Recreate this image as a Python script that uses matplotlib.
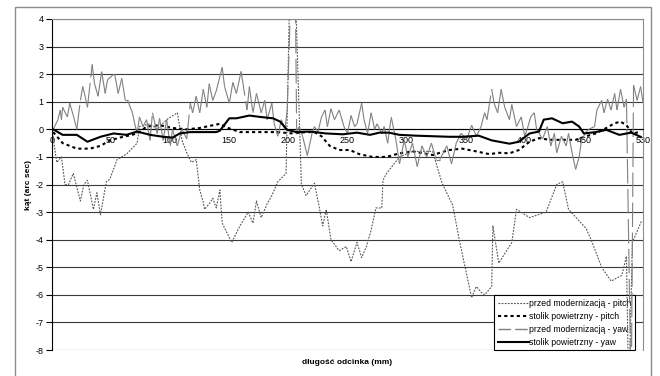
import matplotlib
matplotlib.use("Agg")
import matplotlib.pyplot as plt
from matplotlib.patches import Rectangle
from matplotlib.collections import LineCollection
from matplotlib.lines import Line2D

plt.rcParams['font.family'] = ['Liberation Sans', 'DejaVu Sans']

# ---- data ----
x_ticks = [0, 50, 100, 150, 200, 250, 300, 350, 400, 450, 500]
x_tick_labels = ["0", "50", "100", "150", "200", "250", "300", "350", "400", "450", "530"]
y_ticks = [4, 3, 2, 1, 0, -1, -2, -3, -4, -5, -6, -7, -8]

series_names = ["przed modernizacją - pitch", "stolik powietrzny - pitch",
                "przed modernizacją - yaw", "stolik powietrzny - yaw"]

pitch_old_x = [0, 4, 8, 11, 14, 18, 24, 27, 30, 35, 38, 41, 46, 49, 55, 63, 72, 74, 83, 89, 97,
               106, 110, 114, 118, 122, 125, 128, 129, 133, 136, 139, 142, 144, 152, 159, 166,
               170, 173, 177, 182, 186, 191, 198, 203, 211, 215, 222, 226, 229, 232, 236, 243,
               249, 253, 258, 262, 266, 270, 274, 279, 280, 283, 294, 305, 322, 330, 339, 345,
               355, 359, 363, 366, 372, 373, 378, 389, 393, 404, 418, 427, 432, 437, 452, 457,
               465, 473, 482, 486, 488, 491, 499]
pitch_old_y = [0, -1.2, -1.0, -2.0, -2.0, -1.6, -2.6, -2.0, -1.85, -2.9, -2.3, -3.1, -1.9, -1.8,
               -1.1, -0.9, -0.5, 0.1, 0.2, 0.0, 0.35, 0.6, -0.4, -0.85, -1.2, -1.1, -2.2, -2.65,
               -2.9, -2.7, -2.5, -2.85, -2.2, -3.4, -4.1, -3.5, -3.0, -3.4, -2.6, -3.2, -2.7,
               -2.4, -1.9, -1.6, 9.0, -2.0, -2.4, -1.95, -2.8, -3.5, -2.9, -4.0, -4.4, -4.25,
               -4.8, -4.1, -4.65, -4.25, -3.65, -2.85, -2.85, -1.85, -1.6, -1.0, -0.8, -0.8,
               -1.95, -2.75, -4.1, -6.1, -5.7, -5.9, -6.0, -5.7, -3.5, -4.85, -4.1, -2.9, -3.2,
               -3.0, -2.0, -1.9, -2.9, -3.6, -4.1, -5.0, -5.5, -5.3, -4.6, -10.0, -4.1, -3.3]

pitch_new_x = [1, 9, 21, 32, 41, 49, 60, 68, 74, 80, 91, 102, 114, 125, 133, 142, 149, 159, 173,
               190, 204, 215, 222, 228, 235, 243, 252, 260, 271, 283, 294, 305, 322, 336, 347,
               359, 370, 378, 387, 395, 404, 412, 421, 432, 443, 452, 460, 469, 476, 481, 486,
               491, 497]
pitch_new_y = [-0.1, -0.5, -0.7, -0.7, -0.6, -0.4, -0.27, -0.2, -0.1, 0.1, 0.15, 0.05, 0.0, 0.05,
               0.12, 0.2, 0.05, -0.1, -0.1, -0.1, -0.15, -0.1, -0.1, -0.25, -0.6, -0.75, -0.75,
               -0.9, -1.0, -1.0, -0.87, -0.8, -0.93, -0.75, -0.7, -0.8, -0.9, -0.85, -0.87, -0.75,
               -0.45, -0.32, -0.38, -0.38, -0.38, -0.25, -0.15, 0.05, 0.22, 0.28, 0.15, -0.15, -0.1]

yaw_old_x = [1, 5, 7, 8, 9, 13, 15, 18, 21, 24, 26, 28, 30, 34, 36, 39, 42, 45, 47, 51, 53, 56,
             59, 62, 64, 68, 70, 72, 74, 77, 80, 83, 85, 89, 91, 94, 97, 100, 102, 106, 110, 114,
             117, 119, 122, 125, 128, 131, 133, 136, 139, 144, 146, 150, 153, 156, 160, 165, 167,
             170, 173, 177, 180, 182, 186, 188, 191, 194, 197, 199, 205, 207, 209, 212, 216, 220,
             222, 225, 228, 231, 233, 236, 239, 243, 247, 250, 253, 256, 258, 262, 264, 267, 270,
             273, 275, 279, 281, 284, 287, 291, 294, 298, 301, 305, 309, 313, 317, 321, 325, 328,
             334, 338, 342, 346, 351, 355, 359, 363, 366, 368, 372, 374, 377, 380, 383, 387, 389,
             393, 397, 400, 402, 405, 408, 410, 415, 419, 422, 425, 427, 431, 435, 437, 440, 443,
             446, 448, 452, 454, 459, 461, 465, 467, 470, 473, 476, 478, 481, 484, 486, 490, 492,
             495, 498, 500]
yaw_old_y = [0, 0.35, 0.7, 0.35, 0.8, 0.45, 0.95, 0.5, 0.0, 1.05, 1.55, 1.2, 0.8, 2.35, 1.65, 1.2,
             2.1, 1.3, 1.8, 1.95, 2.0, 1.3, 1.85, 1.05, 1.05, 0.6, 0.2, -0.15, 0.45, 0.1, 0.35,
             -0.4, 0.6, -0.15, 0.4, -0.4, 0.35, -0.6, 0.0, -0.6, 0.0, -0.35, 0.95, 0.6, 1.2, 0.6,
             1.45, 0.8, 1.65, 1.05, 1.4, 2.25, 1.55, 0.95, 1.7, 1.3, 2.1, 0.7, 1.55, 0.6, 1.3,
             0.6, 1.05, 0.35, 0.95, 0.2, -0.25, 0.35, 0.0, 0.7, 9.0, -0.15, 0.1, -0.25, -0.95,
             -0.15, 0.1, -0.1, 0.45, 0.7, 0.1, 0.75, 0.35, 0.7, 0.1, -0.15, 0.5, 0.1, 0.2, 0.95,
             0.35, -0.15, 0.6, 0.0, 0.2, -0.15, 0.1, -0.5, 0.45, -0.4, -1.25, -0.4, -1.0, -0.5,
             -1.35, -0.6, -1.0, -0.5, -1.1, -1.1, -0.6, -1.25, -0.5, -0.15, -0.35, 0.15, -0.25,
             0.1, 0.6, 0.35, 1.45, 0.95, 0.6, 1.45, 0.8, 0.35, 0.9, 0.1, 0.45, -0.25, 0.0, 0.45,
             0.6, 0.0, -0.35, 0.1, -0.6, -0.15, -0.85, -0.25, -0.6, -0.15, -0.85, -1.45, -1.0,
             -0.4, -0.08, 0.0, 0.1, 0.7, 1.05, 0.6, 1.1, 0.7, 1.3, 0.7, 1.45, 0.8, 1.1, -10.0,
             1.6, 1.05, 1.55, 0.95]

yaw_new_x = [1, 9, 21, 30, 41, 52, 63, 72, 83, 94, 102, 108, 117, 128, 139, 142, 150, 156, 167,
             176, 187, 193, 199, 207, 218, 232, 246, 258, 269, 277, 285, 294, 308, 322, 336, 347,
             361, 372, 387, 395, 404, 412, 416, 423, 432, 440, 446, 450, 460, 469, 480, 490, 498]
yaw_new_y = [0, -0.2, -0.2, -0.45, -0.27, -0.15, -0.2, -0.08, -0.2, -0.27, -0.3, -0.15, -0.1,
             -0.1, -0.1, -0.05, 0.4, 0.4, 0.5, 0.45, 0.4, 0.28, -0.02, -0.1, -0.08, -0.15, -0.18,
             -0.12, -0.2, -0.12, -0.12, -0.2, -0.23, -0.25, -0.27, -0.27, -0.23, -0.4, -0.52,
             -0.45, -0.15, -0.08, 0.35, 0.4, 0.22, 0.28, 0.1, -0.15, -0.1, -0.02, -0.2, -0.12,
             -0.27]

# ---- figure ----
W, H = 660, 376
fig = plt.figure(figsize=(W / 100, H / 100), dpi=100)
fig.patch.set_facecolor('white')

# outer chart-area border
fig.add_artist(Rectangle((15 / W, -0.02), (651 - 15) / W, 1 - 7 / H + 0.02,
                         transform=fig.transFigure, fill=False, edgecolor='#8c8c8c', lw=1.0))

ax = fig.add_axes([52 / W, 1 - 350 / H, (643 - 52) / W, (350 - 19) / H])
ax.set_xlim(0, 500)
ax.set_ylim(-8, 4)

for yv in y_ticks:
    ax.axhline(yv, color='#3a3a3a', lw=0.8, zorder=0)

c_pitch_old = '#555555'
c_yaw_old = '#808080'

ax.plot(pitch_old_x, pitch_old_y, color=c_pitch_old, lw=0.8, dashes=(1.6, 1.2), zorder=2)
ax.plot(pitch_new_x, pitch_new_y, color='black', lw=1.5, dashes=(1.5, 1.5), zorder=3)
# dash pattern restarts on every segment (as in the spreadsheet rendering)
yaw_old_segments = [[(x0, y0), (x1, y1)] for x0, y0, x1, y1 in
                    zip(yaw_old_x[:-1], yaw_old_y[:-1], yaw_old_x[1:], yaw_old_y[1:])]
ax.add_collection(LineCollection(yaw_old_segments, colors=c_yaw_old, linewidths=0.8,
                                 linestyles=[(0, (22, 5))], zorder=4))
ax.plot(yaw_new_x, yaw_new_y, color='black', lw=1.5, zorder=5)

ax.spines['left'].set_color('black')
ax.spines['left'].set_linewidth(0.8)
ax.spines['top'].set_color('#8c8c8c')
ax.spines['right'].set_color('#8c8c8c')
ax.spines['bottom'].set_position(('data', 0))
ax.spines['bottom'].set_color('black')
ax.spines['bottom'].set_linewidth(0.8)

ax.set_yticks(y_ticks)
ax.set_yticklabels([str(v) for v in y_ticks])
ax.tick_params(axis='y', direction='out', length=4, width=0.8, pad=2, labelsize=6.5,
               colors='black')
ax.set_xticks(x_ticks)
ax.set_xticklabels(x_tick_labels)
ax.tick_params(axis='x', length=0, pad=5, labelsize=6.5)

handles = [
    Line2D([], [], color=c_pitch_old, lw=0.8, dashes=(1.6, 1.2)),
    Line2D([], [], color='black', lw=1.5, dashes=(1.5, 1.5)),
    Line2D([], [], color=c_yaw_old, lw=1.0, dashes=(9, 3)),
    Line2D([], [], color='black', lw=1.5),
]
leg = ax.legend(handles, series_names, loc='lower right', bbox_to_anchor=(0.987, 0.0),
                fontsize=6.2, frameon=True, fancybox=False, framealpha=1, edgecolor='black',
                handlelength=3.6, handletextpad=0.1, labelspacing=0.45,
                borderpad=0.4, borderaxespad=0.0)
leg.get_frame().set_linewidth(0.8)
leg.set_zorder(1)

fig.text(28 / W, 1 - 185 / H, "kąt (arc sec)", rotation=90, ha='center', va='center',
         fontsize=6, fontweight='bold')
fig.text(347 / W, 1 - 362 / H, "długość odcinka (mm)", ha='center', va='center',
         fontsize=6, fontweight='bold')

fig.savefig('out.png', dpi=100)
